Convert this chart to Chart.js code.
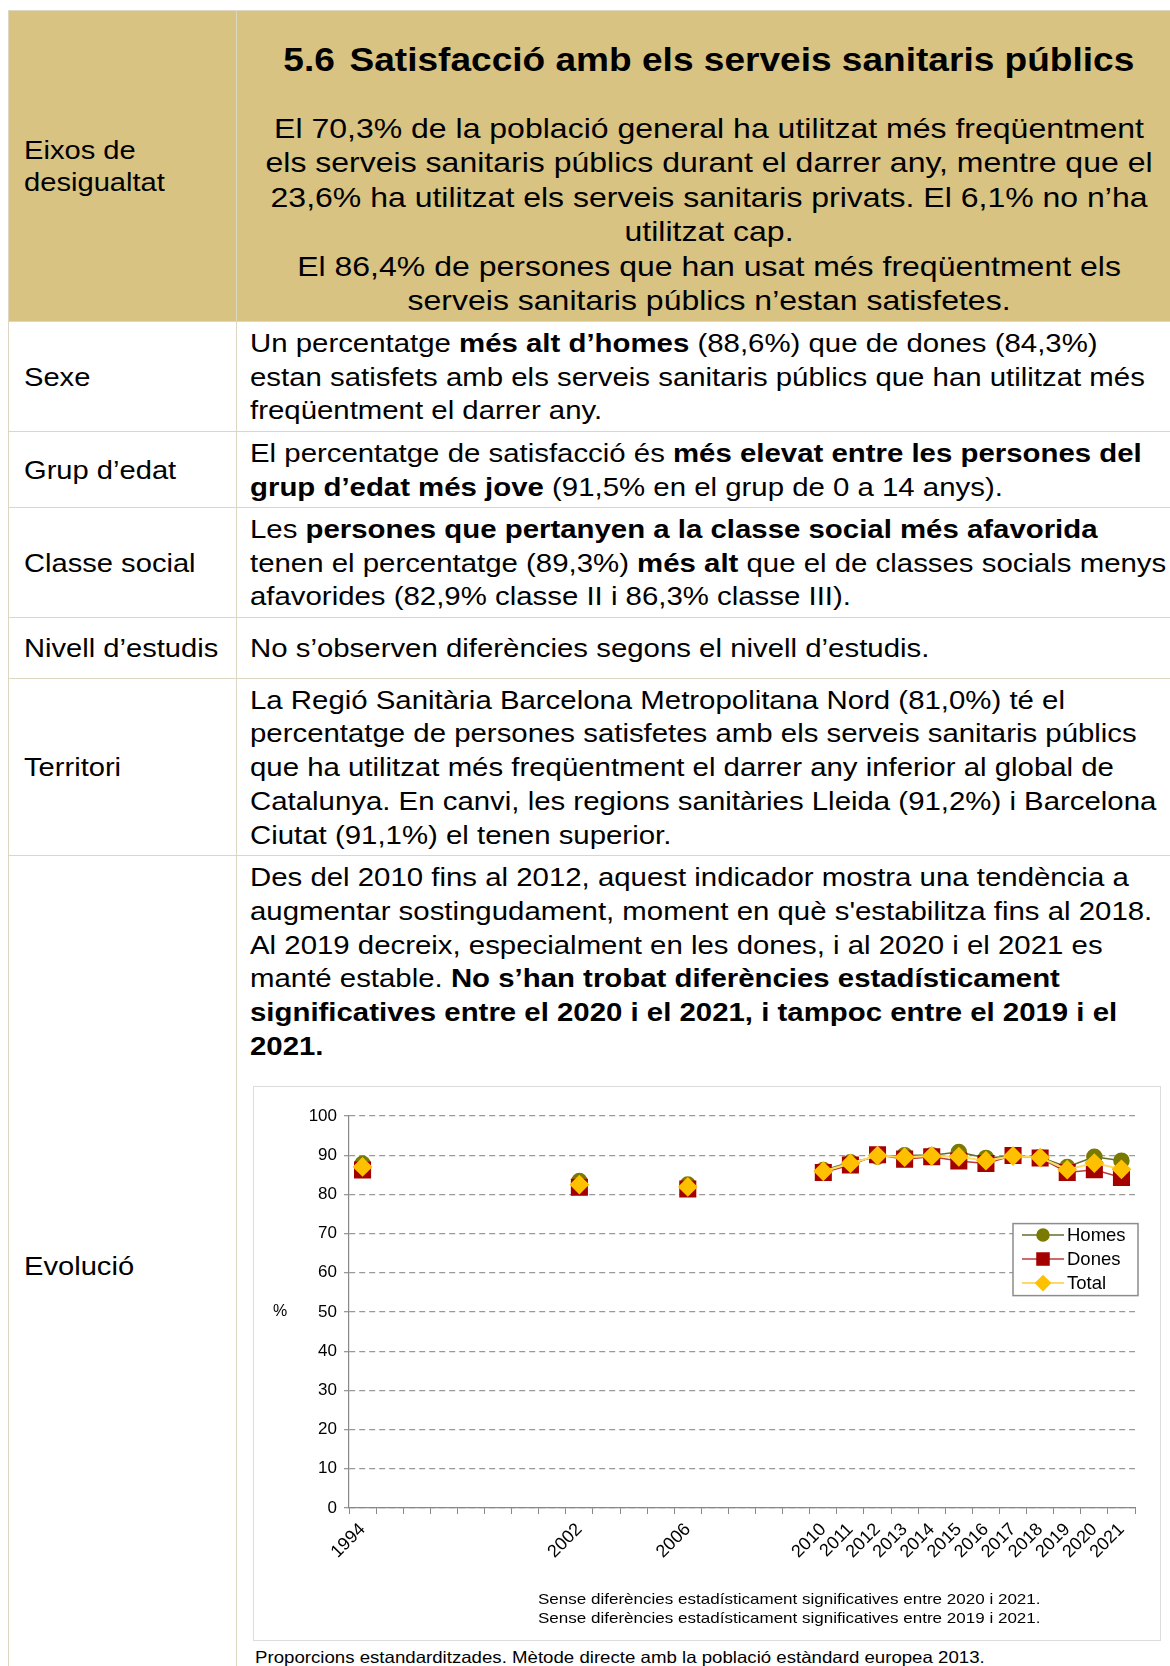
<!DOCTYPE html>
<html lang="ca">
<head>
<meta charset="utf-8">
<title>5.6 Satisfacció amb els serveis sanitaris públics</title>
<script src="https://cdn.jsdelivr.net/npm/chart.js@4.4.1/dist/chart.umd.min.js"></script>
<style>
  body { margin: 0; width: 1170px; height: 1666px; position: relative; overflow: hidden; background: #fff;
         font-family: "Liberation Sans", Arial, Helvetica, sans-serif; color: #000; }
  .row { position: absolute; left: 8px; right: 0; border-top: 1px solid #ddd6c2; border-left: 1px solid #ddd6c2; box-sizing: border-box; }
  .lab, .txt { position: absolute; top: 0; bottom: 0; display: flex; flex-direction: column; justify-content: center;
               white-space: nowrap; box-sizing: border-box; }
  .lab { left: 0; width: 227px; padding-left: 15px; font-size: 25px; line-height: 32px; }
  .lab .sx { transform: scaleX(1.165); }
  .txt { left: 227px; right: 0; padding-left: 13px; padding-top: 2px; border-left: 1px solid #ddd6c2; font-size: 26px; line-height: 33.8px; }
  .sx { display: inline-block; transform: scaleX(1.13); transform-origin: 0 50%; }
  .hdr { background: #d8c382; }
  .hdr .txt { align-items: center; justify-content: flex-start; padding-left: 11px; padding-top: 0; }
  .hdr .txt .sx { transform-origin: 50% 50%; text-align: center; }
  .title { font-weight: bold; font-size: 33.7px; line-height: 40px; margin-top: 28px; }
  .hdr .txt .title { transform: scaleX(1.1); }
  .title .gap { display: inline-block; width: 4px; }
  .para { font-size: 28px; line-height: 34.4px; margin-top: 33px; }
  .hdr .txt .para { transform: scaleX(1.143); }
  #frame { position: absolute; left: 253px; top: 1086px; width: 908px; height: 555px; box-sizing: border-box; border: 1px solid #dcdcdc; }
  #frame canvas { position: absolute; left: 0; top: 0; }
  .note { position: absolute; left: 284px; font-size: 15px; line-height: 19px; white-space: nowrap; transform-origin: 0 50%; transform: scaleX(1.135); }
  .foot { position: absolute; left: 255px; top: 1646px; font-size: 16.5px; line-height: 22px; white-space: nowrap; transform-origin: 0 50%; transform: scaleX(1.13); }
</style>
</head>
<body>

<div class="row hdr" style="top:10px;height:311px;">
  <div class="lab"><span class="sx">Eixos de<br>desigualtat</span></div>
  <div class="txt">
    <div class="sx title">5.6<span class="gap"></span> Satisfacció amb els serveis sanitaris públics</div>
    <div class="sx para">El 70,3% de la població general ha utilitzat més freqüentment<br>els serveis sanitaris públics durant el darrer any, mentre que el<br>23,6% ha utilitzat els serveis sanitaris privats. El 6,1% no n’ha<br>utilitzat cap.<br>El 86,4% de persones que han usat més freqüentment els<br>serveis sanitaris públics n’estan satisfetes.</div>
  </div>
</div>

<div class="row" style="top:321px;height:110px;">
  <div class="lab"><span class="sx">Sexe</span></div>
  <div class="txt"><span class="sx">Un percentatge <b>més alt d’homes</b> (88,6%) que de dones (84,3%)<br>estan satisfets amb els serveis sanitaris públics que han utilitzat més<br>freqüentment el darrer any.</span></div>
</div>

<div class="row" style="top:431px;height:76px;">
  <div class="lab"><span class="sx">Grup d’edat</span></div>
  <div class="txt"><span class="sx">El percentatge de satisfacció és <b>més elevat entre les persones del</b><br><b>grup d’edat més jove</b> (91,5% en el grup de 0 a 14 anys).</span></div>
</div>

<div class="row" style="top:507px;height:110px;">
  <div class="lab"><span class="sx">Classe social</span></div>
  <div class="txt"><span class="sx">Les <b>persones que pertanyen a la classe social més afavorida</b><br>tenen el percentatge (89,3%) <b>més alt</b> que el de classes socials menys<br>afavorides (82,9% classe II i 86,3% classe III).</span></div>
</div>

<div class="row" style="top:617px;height:61px;">
  <div class="lab"><span class="sx">Nivell d’estudis</span></div>
  <div class="txt"><span class="sx">No s’observen diferències segons el nivell d’estudis.</span></div>
</div>

<div class="row" style="top:678px;height:177px;">
  <div class="lab"><span class="sx">Territori</span></div>
  <div class="txt"><span class="sx">La Regió Sanitària Barcelona Metropolitana Nord (81,0%) té el<br>percentatge de persones satisfetes amb els serveis sanitaris públics<br>que ha utilitzat més freqüentment el darrer any inferior al global de<br>Catalunya. En canvi, les regions sanitàries Lleida (91,2%) i Barcelona<br>Ciutat (91,1%) el tenen superior.</span></div>
</div>

<div class="row" style="top:855px;height:830px;">
  <div class="lab" style="justify-content:flex-start;padding-top:394px;"><span class="sx">Evolució</span></div>
  <div class="txt" style="justify-content:flex-start;padding-top:5px;"><span class="sx">Des del 2010 fins al 2012, aquest indicador mostra una tendència a<br>augmentar sostingudament, moment en què s'estabilitza fins al 2018.<br>Al 2019 decreix, especialment en les dones, i al 2020 i el 2021 es<br>manté estable. <b>No s’han trobat diferències estadísticament</b><br><b>significatives entre el 2020 i el 2021, i tampoc entre el 2019 i el</b><br><b>2021.</b></span></div>
</div>

<div id="frame">
  <canvas id="chartEvol" width="906" height="553"></canvas>
  <div class="note" style="top:502px;">Sense diferències estadísticament significatives entre 2020 i 2021.</div>
  <div class="note" style="top:521px;">Sense diferències estadísticament significatives entre 2019 i 2021.</div>
</div>
<div class="foot">Proporcions estandarditzades. Mètode directe amb la població estàndard europea 2013.</div>

<script>
// posicions de l'eix X (les buides no tenen enquesta)
const slots = ['1994', '', '', '', '', '', '', '', '2002', '', '', '', '2006', '', '', '', '',
  '2010', '2011', '2012', '2013', '2014', '2015', '2016', '2017', '2018', '2019', '2020', '2021'];
const years = [1994, 2002, 2006, 2010, 2011, 2012, 2013, 2014, 2015, 2016, 2017, 2018, 2019, 2020, 2021];
const homes = [87.8, 83.4, 82.5, 86.2, 88.2, 89.6, 90.0, 90.0, 90.8, 89.3, 89.8, 89.5, 87.0, 89.6, 88.6];
const dones = [86.2, 81.8, 81.4, 85.6, 87.5, 90.1, 89.0, 89.6, 88.5, 87.9, 89.9, 89.3, 85.6, 86.3, 84.3];
const total = [87.0, 82.5, 81.9, 85.9, 87.9, 89.9, 89.5, 89.8, 89.6, 88.6, 89.8, 89.4, 86.3, 88.0, 86.4];
const yTicks = [0, 10, 20, 30, 40, 50, 60, 70, 80, 90, 100];

const spread = vals => slots.map(s => {
  const i = s ? years.indexOf(Number(s)) : -1;
  return i < 0 ? null : vals[i];
});

const family = '"Liberation Sans", Arial, sans-serif';

const insideLegend = {
  id: 'insideLegend',
  afterDraw(chart) {
    const { ctx, chartArea, scales } = chart;
    const left = chartArea.right - 122;
    const top = scales.y.getPixelForValue(70) - 10;
    ctx.save();
    ctx.fillStyle = '#fff';
    ctx.fillRect(left, top, 125, 72);
    ctx.strokeStyle = '#8c8c8c';
    ctx.lineWidth = 1.5;
    ctx.strokeRect(left, top, 125, 72);
    chart.data.datasets.forEach((ds, i) => {
      const y = top + 11.5 + i * 24;
      ctx.strokeStyle = ds.borderColor;
      ctx.lineWidth = ds.borderWidth;
      ctx.beginPath();
      ctx.moveTo(left + 9, y);
      ctx.lineTo(left + 51, y);
      ctx.stroke();
      ctx.fillStyle = ds.pointBackgroundColor;
      ctx.strokeStyle = ds.pointBorderColor;
      Chart.helpers.drawPoint(ctx, { pointStyle: ds.pointStyle, radius: ds.legendRadius, rotation: 0, borderWidth: 1 }, left + 30, y);
      ctx.fillStyle = '#000';
      ctx.font = '18.5px ' + family;
      ctx.textBaseline = 'middle';
      ctx.textAlign = 'left';
      ctx.fillText(ds.label, left + 54, y + 1);
    });
    ctx.font = '16px ' + family;
    ctx.textAlign = 'center';
    ctx.textBaseline = 'middle';
    ctx.fillText('%', chartArea.left - 69, scales.y.getPixelForValue(50));
    ctx.restore();
  }
};

new Chart(document.getElementById('chartEvol'), {
  type: 'line',
  data: {
    labels: slots,
    datasets: [{
      label: 'Homes',
      data: spread(homes),
      order: 3,
      borderColor: '#5f6f2e',
      borderWidth: 1.5,
      pointStyle: 'circle',
      pointRadius: 7.5,
      legendRadius: 6,
      pointBackgroundColor: '#7a7a00',
      pointBorderColor: '#7a7a00'
    }, {
      label: 'Dones',
      data: spread(dones),
      order: 2,
      borderColor: '#b83c3c',
      borderWidth: 1.5,
      pointStyle: 'rect',
      pointRadius: 11,
      legendRadius: 8.5,
      pointBackgroundColor: '#a50000',
      pointBorderColor: '#a50000'
    }, {
      label: 'Total',
      data: spread(total),
      order: 1,
      borderColor: '#ffd966',
      borderWidth: 2,
      pointStyle: 'rectRot',
      pointRadius: 8.5,
      legendRadius: 7,
      pointBackgroundColor: '#ffc000',
      pointBorderColor: '#ffc000'
    }]
  },
  options: {
    responsive: false,
    animation: false,
    spanGaps: false,
    layout: { padding: { top: 29, right: 25, left: 0, bottom: 0 } },
    plugins: { legend: { display: false }, tooltip: { enabled: false } },
    scales: {
      x: {
        offset: true,
        grid: { offset: true, drawOnChartArea: false, color: '#888', tickLength: 6 },
        border: { color: '#888', width: 1.2 },
        ticks: {
          font: { family: family, size: 18 }, color: '#000', autoSkip: false, minRotation: 45, maxRotation: 45, padding: 5,
          callback: (v, i) => slots[i]
        },
        afterFit: scale => { scale.height = 132; }
      },
      y: {
        min: 0,
        max: 100,
        afterBuildTicks: scale => { scale.ticks = yTicks.map(v => ({ value: v })); },
        grid: { color: '#999', lineWidth: 1.3, tickLength: 5 },
        border: { color: '#888', width: 1.2, dash: [6, 4] },
        ticks: { font: { family: family, size: 17 }, color: '#000', padding: 7 },
        afterFit: scale => { scale.width = 95; }
      }
    }
  },
  plugins: [insideLegend]
});
</script>
</body>
</html>
